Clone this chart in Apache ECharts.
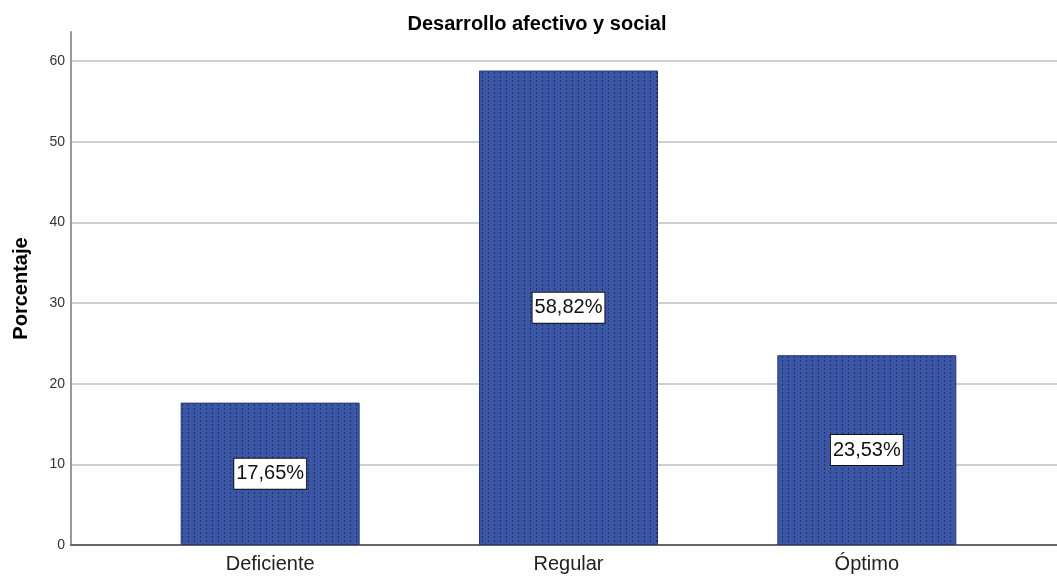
<!DOCTYPE html>
<html>
<head>
<meta charset="utf-8">
<script src="https://cdn.jsdelivr.net/npm/echarts@6/dist/echarts.min.js"></script>
<style>
html,body{margin:0;padding:0;background:#fff;}
#chart{width:1057px;height:576px;}
</style>
</head>
<body>
<div id="chart"></div>
<script>
var categories = ['Deficiente', 'Regular', 'Óptimo'];
var percentages = [17.65, 58.82, 23.53];
var yTicks = [0, 10, 20, 30, 40, 50, 60];

// dotted fill like the SPSS bar pattern
var pat = document.createElement('canvas');
pat.width = 6; pat.height = 4;
var ctx = pat.getContext('2d');
ctx.fillStyle = '#3c56a6';
ctx.fillRect(0, 0, 6, 4);
ctx.fillStyle = '#22306a';
ctx.fillRect(2, 0, 1, 2);

var myChart = echarts.init(document.getElementById('chart'));

var yMin = yTicks[0], yMax = yTicks[yTicks.length - 1];

var option = {
    backgroundColor: '#ffffff',
    animation: false,
    title: {
        text: 'Desarrollo afectivo y social',
        left: 532,
        textAlign: 'center',
        top: 9,
        textStyle: {
            fontFamily: 'Liberation Sans',
            fontSize: 20,
            fontWeight: 'bold',
            color: '#000'
        }
    },
    grid: [
        { left: 121, right: 41, top: 61, bottom: 31, containLabel: false, outerBoundsMode: 'none' },  // bars
        { left: 71, right: 0, top: 61, bottom: 31, containLabel: false, outerBoundsMode: 'none' },    // gridlines, y labels, x axis line
        { left: 71, right: 0, top: 32, bottom: 31, containLabel: false, outerBoundsMode: 'none' }     // tall y axis line
    ],
    xAxis: [
        {
            type: 'category',
            gridIndex: 0,
            data: categories,
            axisLine: { show: false },
            axisTick: { show: false },
            axisLabel: {
                fontFamily: 'Liberation Sans',
                fontSize: 20,
                color: '#222',
                margin: 9
            }
        },
        {
            type: 'value',
            gridIndex: 1,
            min: 0, max: 1,
            axisLine: { show: true, onZero: false, lineStyle: { color: '#666', width: 2 } },
            axisTick: { show: false },
            axisLabel: { show: false },
            splitLine: { show: false }
        },
        {
            type: 'value',
            gridIndex: 2,
            min: 0, max: 1,
            show: false
        }
    ],
    yAxis: [
        {
            type: 'value',
            gridIndex: 0,
            min: yMin,
            max: yMax,
            interval: 10,
            show: false
        },
        {
            type: 'value',
            gridIndex: 1,
            min: yMin,
            max: yMax,
            interval: 10,
            axisLine: { show: false },
            axisTick: { show: false },
            axisLabel: {
                fontFamily: 'Liberation Sans',
                fontSize: 14,
                color: '#333',
                margin: 6
            },
            splitLine: { show: true, lineStyle: { color: '#d0d0d0', width: 2 } }
        },
        {
            type: 'value',
            gridIndex: 2,
            min: 0, max: 1,
            name: 'Porcentaje',
            nameLocation: 'middle',
            nameGap: 40,
            nameRotate: 90,
            nameTextStyle: {
                fontFamily: 'Liberation Sans',
                fontSize: 20,
                fontWeight: 'bold',
                color: '#000'
            },
            axisLine: { show: true, lineStyle: { color: '#999', width: 2 } },
            axisTick: { show: false },
            axisLabel: { show: false },
            splitLine: { show: false }
        }
    ],
    series: [
        {
            type: 'bar',
            xAxisIndex: 0,
            yAxisIndex: 0,
            data: percentages,
            barWidth: 179,
            z: 3,
            itemStyle: {
                color: { image: pat, repeat: 'repeat' },
                borderColor: '#2a3a78',
                borderWidth: 1
            },
            label: {
                show: true,
                position: 'inside',
                formatter: function (p) {
                    return p.value.toFixed(2).replace('.', ',') + '%';
                },
                fontFamily: 'Liberation Sans',
                fontSize: 20,
                color: '#111',
                backgroundColor: '#ffffff',
                borderColor: '#111',
                borderWidth: 1,
                padding: [6, 2, 4, 2]
            }
        }
    ]
};
myChart.setOption(option);
</script>
</body>
</html>
